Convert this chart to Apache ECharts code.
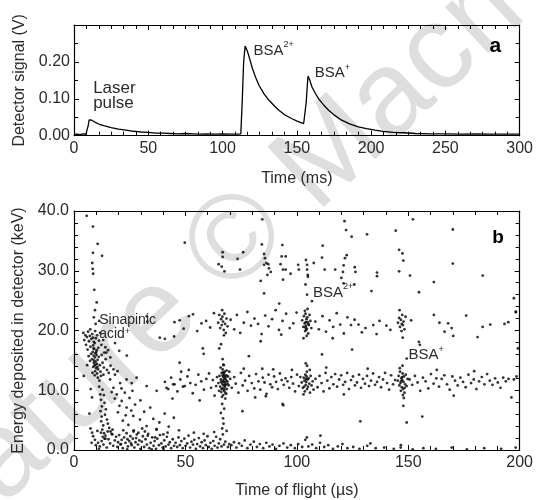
<!DOCTYPE html>
<html><head><meta charset="utf-8">
<script src="https://cdn.jsdelivr.net/npm/echarts@6/dist/echarts.min.js"></script>
<style>html,body{margin:0;padding:0;background:#fff}#c{width:536px;height:500px}</style>
</head><body><div id="c"></div>
<script>
// ---------- Panel a: detector signal ----------
const signalTime = [0,2,4,6,8,9,9.6,10.2,10.7,12,14,17,20,25,30,35,40,43,45,50,55,60,65,70,75,80,85,90,95,100,105,110,112.3,113.2,114.2,115.2,116.8,118.5,120.1,122.3,124.6,127.8,131.3,134.6,137.9,142,146.8,150.5,154.6,155.4,156.3,157.5,158.6,160.2,162.4,164.7,167.9,171.4,175.5,180.2,185.5,191.4,196.9,202.6,208,215,222,230,240,250,260,270,280,290,300];
const signalVolts = [0.003,0.004,0.003,0.005,0.004,0.006,0.028,0.043,0.046,0.042,0.037,0.031,0.027,0.022,0.018,0.015,0.012,0.011,0.010,0.009,0.007,0.007,0.006,0.005,0.006,0.005,0.004,0.005,0.004,0.005,0.004,0.004,0.005,0.09,0.20,0.243,0.228,0.205,0.182,0.158,0.136,0.114,0.096,0.082,0.069,0.056,0.046,0.039,0.033,0.031,0.09,0.162,0.152,0.132,0.115,0.100,0.084,0.069,0.055,0.042,0.032,0.024,0.019,0.015,0.012,0.009,0.008,0.006,0.005,0.005,0.004,0.005,0.004,0.004,0.004];
const timeTicksA = [0, 300, 50];
const voltTicks = [0, 0.3, 0.1];

// ---------- Panel b: energy vs time of flight ----------
const tofTicks = [0, 200, 50];
const energyTicks = [0, 40, 10];

const sinapinicPts = [[4.2,19.6],[5.1,19.2],[4.6,18.4],[5.8,18.9],[6.3,19.8],[7.1,19.1],[6.7,18.2],[5.4,17.6],[7.8,18.6],[8.2,19.4],[8.9,18.1],[7.4,17.3],[6.1,16.8],[8.6,17.5],[9.3,17.9],[9.8,18.7],[10.4,19.2],[11.2,18.3],[10.9,17.1],[12.3,17.6],[13.1,18.4],[9.1,16.9],[8.4,16.4],[9.6,16.2],[10.2,16.7],[8.8,15.8],[9.4,15.5],[10.1,15.9],[8.1,15.2],[9.7,14.8],[10.6,15.1],[8.9,14.6],[9.2,14.1],[10.3,14.4],[11.1,15.6],[9.9,13.7],[8.6,13.9],[10.8,13.5],[11.6,14.2],[9.5,13.2],[10.4,12.8],[11.9,13.1],[12.4,15.9],[13.6,16.3],[14.2,15.2],[12.8,14.6],[13.4,13.8],[7.2,14.9],[6.6,15.7],[7.7,16.1],[5.9,14.2],[4.4,12.4],[12.1,12.4],[13.2,12.6],[14.8,13.4],[15.6,12.9],[16.4,14.1],[10.7,12.1],[11.4,11.6],[9.3,12.5],[8.3,12.9],[8.5,18.8],[9.5,19.9],[11.7,19.6],[7.3,20.2],[14.1,17.2],[15.3,16.7],[16.3,15.5],[14.5,16.3],[9.0,15.0],[9.6,14.3],[10.0,16.4],[8.7,17.0],[10.5,13.9]];

const trailPts = [[5.7,39.2],[8.5,37.4],[10.6,34.5],[12.6,32.5],[8.5,33.0],[8.2,31.3],[8.4,30.3],[8.6,29.5],[9.1,26.8],[10.2,24.7],[9.4,23.4],[9.7,21.1],[11.3,21.6],[8.9,22.2],[32.7,22.4],[32.9,21.5],[38.5,18.8],[40.8,18.6],[44.9,19.0],[23.7,15.8],[20.3,16.6],[18.4,17.9],
[11.8,9.3],[12.1,8.4],[12.5,7.3],[11.9,6.5],[12.4,5.6],[12.2,4.8],[13.1,4.1],[12.7,3.4],[13.5,2.8],[12.9,2.2],[14.1,1.9],[11.3,10.6],[12.8,10.1],[13.4,9.2],[13.7,7.9],[14.3,6.8],[13.9,5.9],[14.8,5.1],[15.2,4.4],[15.8,3.7],[16.4,3.1],[17.2,2.6],
[7.4,3.6],[8.1,2.9],[9.4,1.7],[8.6,2.3],[7.9,1.2],[9.8,0.8],[10.5,3.2],[8.1,8.8],[7.5,10.2],[6.9,6.1],
[17.7,13.5],[19.5,13.2],[20.7,11.2],[23.6,11.8],[25.9,11.2],[28.1,12.1],[32.6,10.7],[37.1,9.9],[41.5,10.4],[44.5,11.0],
[17.7,10.4],[19.2,9.3],[21.4,8.2],[23.6,7.1],[26.6,5.7],[29.6,5.1],[32.6,4.0],[37.1,3.5],[40.1,2.6],
[16.2,11.8],[18.4,12.6],[21.3,10.3],[22.8,9.6],[24.9,8.7],[26.2,9.9],[27.4,7.6],[29.8,8.3],[31.5,6.4],[34.2,7.1],[35.6,5.2],[38.3,4.6],[40.7,6.1],[42.5,3.9],[44.8,5.4],[19.7,6.3],[21.9,4.9],[24.4,4.2],[26.8,3.3],[28.9,2.9],[30.6,3.6],[33.1,2.4],[36.4,2.1],[18.3,8.6],[20.4,7.4],[16.9,9.7],[23.2,5.8],[25.7,6.6]];

const lowBandPts = [[10.8,1.2],[11.6,0.6],[12.4,1.5],[13.2,0.9],[14.1,2.4],[14.7,0.4],[15.5,1.8],[16.2,1.1],[16.9,2.7],[17.6,0.7],[18.3,1.6],[18.9,2.2],[19.5,0.5],[15.1,3.1],[17.3,3.4],[19.8,1.3],[13.7,1.9],[12.1,2.9],[11.2,0.2],
[20.3,2.5],[20.8,0.9],[21.4,1.7],[21.9,0.3],[22.5,2.1],[23.1,1.2],[23.6,2.8],[24.2,0.6],[24.8,1.5],[25.3,2.3],[25.9,0.8],[26.4,1.9],[27.1,0.4],[27.6,1.3],[28.2,2.6],[28.7,0.9],[29.3,1.6],[29.8,0.2],[22.1,3.3],[26.7,3.1],[21.1,1.0],[24.0,1.8],[27.9,2.0],[23.9,0.1],[25.6,1.1],
[30.4,1.4],[30.9,2.3],[31.5,0.5],[32.1,1.8],[32.7,0.9],[33.3,2.7],[33.8,0.3],[34.4,1.2],[35.1,2.1],[35.7,0.7],[36.2,1.5],[36.8,0.2],[37.4,1.9],[38.1,0.8],[38.6,2.5],[39.2,1.1],[39.8,0.4],[40.5,1.6],[41.1,0.6],[41.7,2.2],[42.4,0.9],[43.0,1.3],[43.6,0.3],[44.3,1.8],[44.9,0.7],[31.8,3.1],[37.0,3.4],[42.0,2.9],[34.9,0.1],[40.2,0.2],
[45.6,1.2],[46.3,0.5],[46.9,2.1],[47.5,0.8],[48.2,1.5],[48.8,0.3],[49.5,1.9],[50.1,0.7],[50.8,1.1],[51.4,2.4],[52.1,0.4],[52.7,1.4],[53.4,0.9],[54.0,1.7],[54.7,0.2],[55.3,1.0],[56.0,2.0],[56.6,0.6],[57.3,1.3],[57.9,0.3],[58.6,1.6],[59.2,0.8],[59.9,2.3],[60.5,0.5],[61.2,1.2],[61.8,0.2],[62.5,1.5],[63.1,0.7],[63.8,2.2],[64.4,0.4],[65.0,1.1],[65.6,1.8],[66.2,0.6],[66.8,2.6],[67.3,0.9],[67.9,1.4],[68.5,3.2],[69.1,0.5],[69.7,1.0],[47.1,3.3],[53.8,2.9],[58.2,2.7],[62.9,3.0],[66.5,3.6],[67.1,4.4],[66.9,5.3],
[70.6,0.8],[71.8,1.3],[72.9,0.4],[74.1,1.1],[75.3,0.7],[76.6,1.6],[77.8,0.3],[79.2,0.9],[80.7,1.4],[82.1,0.5],[83.4,1.0],[84.9,0.3],[86.3,1.2],[87.7,0.6],[89.1,0.9],[90.6,0.2],[92.2,0.7],[94.0,1.1],[95.7,0.4],[97.3,0.8],[99.1,0.3],[100.6,1.0],[102.4,0.5],[103.8,1.7],[104.5,2.1],[105.2,0.6],[106.9,0.9],[108.7,0.3],[110.4,1.2],[110.6,2.4],[112.3,0.5],[114.1,0.8],[116.2,0.2],[118.4,0.6],[120.5,1.0],[122.7,0.3],[125.3,0.5],[128.1,0.2],[131.6,0.7],[133.0,1.1],[135.4,0.3],[139.2,0.4],[143.5,0.2],[146.6,0.4],[146.7,0.8],[152.0,0.1],[156.8,0.3],[162.4,0.2],[169.5,0.4],[176.3,0.1],[184.1,0.3],[191.7,0.2],[198.2,0.4]];

const band11Pts = [[40.8,11.4],[42.3,10.2],[43.6,12.1],[45.1,11.0],[46.4,9.8],[47.7,11.8],[48.9,10.6],[49.7,10.7],[50.9,12.3],[52.2,11.2],[53.3,9.5],[54.6,10.9],[55.8,12.6],[57.1,11.5],[58.3,10.1],[59.4,11.9],[60.6,12.8],[61.5,10.4],[62.3,11.7],[63.1,9.1],[44.2,8.6],[51.5,13.4],[56.4,8.3],[48.1,13.1],
[64.8,11.2],[65.3,12.4],[65.6,10.6],[65.9,11.8],[66.1,9.7],[66.3,12.9],[66.5,11.1],[66.6,10.3],[66.7,13.5],[66.8,11.6],[66.9,12.2],[67.0,9.2],[67.1,10.8],[67.2,11.4],[67.3,12.7],[67.4,10.1],[67.5,11.9],[67.6,13.1],[67.7,10.5],[67.8,11.3],[67.9,9.6],[68.0,12.1],[68.1,10.9],[68.2,11.7],[68.4,12.5],[68.6,10.2],[68.8,11.5],[69.1,12.3],[65.1,9.9],[65.8,13.8],[66.4,8.9],[67.2,14.2],[67.9,8.6],[68.5,13.3],[69.4,10.8],[64.2,12.2],[66.0,11.4],[66.7,12.5],[67.3,9.9],[67.7,12.4],[68.3,9.4],[66.2,10.2],[67.0,13.0],[67.6,10.9],[68.9,11.1],[63.8,10.7],[70.1,11.9],[69.7,13.1],[66.7,15.2],[66.5,7.7],[67.4,6.9],[65.9,6.2],
[70.8,10.4],[71.9,12.2],[72.6,11.1],[73.8,9.6],[74.9,12.9],[75.7,10.8],[76.8,11.6],[77.9,9.9],[78.6,12.4],[79.8,11.2],[80.9,10.3],[81.7,12.7],[82.8,11.5],[83.6,10.1],[84.7,12.1],[85.5,11.3],[86.4,9.4],[87.3,12.6],[88.1,11.0],[88.9,10.5],[89.8,12.3],[90.7,11.4],[91.5,10.2],[92.4,12.8],[93.2,11.7],[94.1,10.9],[94.9,12.0],[95.8,11.5],[96.6,10.4],[97.5,12.2],[98.3,11.1],[99.2,9.8],[100.1,12.6],[100.9,10.7],[76.2,13.6],[81.3,8.8],[89.4,13.5],[93.6,7.7],[93.9,7.5],[75.6,6.5],[86.1,9.0],[97.8,13.4],
[102.2,11.3],[102.7,10.4],[103.1,12.1],[103.4,11.6],[103.6,9.8],[103.8,12.6],[104.0,10.9],[104.2,11.4],[104.4,12.3],[104.6,10.2],[104.8,11.8],[105.0,10.6],[105.3,12.0],[105.6,11.1],[105.9,9.6],[106.2,12.4],[106.6,10.8],[107.1,11.5],[101.6,12.2],[103.0,9.3],[104.5,13.1],[105.8,13.4],[107.5,10.1],[104.1,11.9],[103.3,10.6],
[108.4,11.9],[109.3,10.5],[110.2,12.4],[111.1,11.2],[112.0,9.8],[112.9,12.9],[113.7,11.6],[114.6,10.3],[115.5,12.2],[116.4,11.0],[117.2,12.7],[118.1,10.6],[119.0,11.8],[119.9,12.5],[120.8,10.9],[121.7,11.4],[122.6,12.9],[123.4,10.2],[124.3,11.7],[125.2,12.3],[126.1,10.8],[127.0,11.3],[127.9,12.6],[128.8,10.4],[129.7,11.9],[130.6,11.1],[131.5,12.4],[132.4,10.7],[133.3,11.6],[134.2,12.8],[135.1,10.9],[136.0,11.4],[136.9,12.2],[137.8,10.5],[138.7,11.8],[139.6,12.9],[140.5,11.2],[141.4,10.1],[142.3,12.5],[143.2,11.0],[144.1,11.7],[113.2,13.8],[121.1,9.3],[131.8,13.6],[128.5,4.8],
[145.3,11.6],[145.7,12.4],[146.0,10.8],[146.3,13.1],[146.5,11.2],[146.7,9.9],[146.9,12.0],[147.1,10.5],[147.3,11.7],[147.5,12.8],[147.7,10.2],[147.9,11.4],[148.1,12.3],[148.3,9.6],[148.6,11.0],[148.9,12.6],[149.3,10.7],[149.7,11.9],[146.2,13.7],[147.4,14.1],[148.0,8.7],[147.8,7.4],[149.3,4.6],[149.3,15.3],[146.8,11.5],[147.2,12.2],[147.6,9.2],[148.4,10.4],
[150.6,11.8],[151.8,10.9],[153.0,12.4],[154.2,11.3],[155.4,9.9],[156.6,12.1],[157.8,11.5],[159.0,10.3],[160.2,12.7],[161.4,11.1],[162.6,12.0],[163.8,10.6],[165.0,11.9],[166.2,12.5],[167.4,11.0],[168.6,10.1],[169.8,12.3],[171.0,11.6],[172.2,10.8],[173.4,12.1],[174.6,11.4],[175.8,10.5],[177.0,12.6],[178.2,11.2],[179.4,11.8],[180.6,10.2],[181.8,11.5],[183.0,12.2],[184.2,11.0],[185.4,12.7],[186.6,11.6],[187.8,10.9],[189.0,12.0],[190.2,11.3],[191.4,10.4],[192.6,12.1],[193.8,11.5],[195.0,11.9],[196.3,8.8],[197.4,11.8],[198.6,12.3],[156.3,5.6],[162.8,13.4],[179.6,13.2],[170.4,9.1]];

const band21Pts = [[45.1,21.4],[47.4,21.7],[49.2,20.3],[51.6,22.4],[53.4,22.7],[55.3,19.9],[57.2,21.2],[59.3,21.6],[61.1,20.5],[62.8,22.9],[70.3,21.8],[71.9,20.2],[73.1,22.6],[74.6,19.6],[76.2,21.3],[77.8,23.1],[79.4,20.8],[81.0,22.0],[82.6,21.1],[84.2,19.4],[85.8,22.5],[87.3,20.7],[88.9,21.9],[90.5,23.4],[92.0,20.1],[93.6,21.6],[95.2,22.8],[96.8,20.4],[98.4,21.2],[99.9,23.0],[108.3,21.5],[109.9,20.2],[111.5,22.4],[113.1,19.8],[114.7,21.7],[116.3,20.6],[117.9,22.9],[119.5,21.0],[121.1,19.5],[122.7,22.2],[124.3,20.9],[125.9,21.8],[127.7,21.0],[129.2,19.7],[130.8,20.4],[134.3,20.9],[135.8,19.4],[137.1,21.6],[140.2,20.8],[142.0,20.1],[151.3,21.7],[154.8,18.1],[155.2,17.6],[161.5,22.6],[164.0,21.3],[166.3,19.8],[167.9,21.2],[169.5,20.4],[170.2,19.1],[176.0,22.5],[181.1,18.9],[183.4,20.6],[186.8,21.0],[193.2,21.1],[194.9,21.4],[198.3,23.1],[199.2,17.0],[83.8,18.2],[93.0,19.3],[111.3,16.0],[116.1,18.7],[57.8,17.0],[65.2,17.0],[66.0,17.7],[47.4,14.6],[67.0,14.3],[84.5,13.6],[104.0,14.5],[104.6,14.1],[58.2,16.1],[78.5,15.7],[124.8,16.8],[92.1,24.5],[106.8,24.9],
[64.7,21.3],[65.2,22.6],[65.6,20.4],[66.0,21.9],[66.3,20.9],[66.6,22.3],[66.9,21.5],[67.2,20.1],[67.5,22.8],[67.8,21.1],[68.1,19.6],[68.4,22.0],[68.9,20.7],[66.5,23.4],[67.3,19.2],
[102.4,21.7],[102.9,20.6],[103.2,22.4],[103.5,21.2],[103.7,19.9],[103.9,22.8],[104.1,20.8],[104.3,21.9],[104.5,20.3],[104.7,22.2],[104.9,21.4],[105.1,19.5],[105.4,20.9],[105.7,22.6],[106.1,21.6],[106.5,20.4],[103.6,23.3],[104.4,19.1],[104.8,23.6],[103.0,18.7],[105.2,21.1],[104.2,20.1],[104.0,21.4],[103.8,20.5],
[145.4,21.3],[145.9,22.1],[146.3,20.6],[146.7,21.8],[147.0,19.9],[147.3,22.6],[147.6,20.9],[147.9,21.5],[148.3,20.2],[148.8,22.3],[146.1,23.4],[147.5,18.8],[147.1,21.1]];

const band31Pts = [[49.7,34.7],[84.3,34.4],[93.5,34.3],[111.6,34.2],[124.6,35.7],[122.1,36.8],[121.4,38.3],[84.5,38.6],[66.7,33.1],[66.7,32.3],[75.9,33.1],[73.4,32.0],[64.9,31.1],[66.3,30.7],[67.5,29.9],[74.5,30.2],[85.3,32.8],[85.7,32.1],[86.3,31.3],[85.3,31.0],[87.2,31.1],[87.5,30.4],[88.3,29.8],[86.8,29.3],[93.2,32.4],[95.0,32.4],[92.7,31.1],[93.8,30.2],[95.0,30.2],[97.2,29.5],[100.6,31.0],[100.9,30.2],[104.1,31.8],[104.6,31.0],[104.6,30.2],[104.9,29.3],[105.0,29.0],[107.6,31.3],[111.3,32.2],[112.5,30.2],[117.2,30.2],[121.0,30.9],[121.6,32.1],[120.7,29.8],[122.4,32.6],[83.8,28.3],[93.8,28.5],[103.9,27.7],[104.6,26.0],[85.3,26.2],[120.0,28.8],[121.0,27.9],[126.0,30.6],[126.3,29.8],[125.8,27.7],[152.1,38.6],[170.0,36.9],[144.4,36.7],[131.5,36.1],[145.9,33.5],[147.4,32.9],[147.8,31.7],[170.0,31.2],[145.9,29.9],[150.8,29.2],[136.0,29.7],[136.0,29.1],[183.4,29.2],[161.5,28.1],[133.5,26.6],[154.8,26.4],[197.4,25.4],[198.3,23.1]];

// annotations (data coordinates)
const notesA = [
  {at:[12.9,0.146], text:'{m|Laser}\n{m|pulse}', size:17, lh:15},
  {at:[120.9,0.258], text:'{m|BSA}{s|2+}', size:15, lh:18},
  {at:[162.1,0.198], text:'{m|BSA}{s|+}', size:15, lh:18}
];
const notesB = [
  {at:[11.3,22.8], text:'{m|Sinapinic}\n{m|acid}{s|+}', size:14, lh:13.5},
  {at:[107.3,28.1], text:'{m|BSA}{s|2+}', size:15, lh:18},
  {at:[150.1,17.6], text:'{m|BSA}{s|+}', size:15, lh:18}
];
const panelLetters = [{grid:0, at:[279.7,0.272], text:'a', size:21},{grid:1, at:[187.7,37.1], text:'b', size:19}];

const FONT = '"Liberation Sans", Arial, Helvetica, sans-serif';
const TXT = '#2a2a2a';
const chart = echarts.init(document.getElementById('c'), null, {renderer:'canvas'});

function axis(kind, grid, ticks, pos, opts) {
  const show = opts.labels;
  return Object.assign({
    type:'value', gridIndex:grid, position:pos,
    min:ticks[0], max:ticks[1], interval:ticks[2],
    axisLine:{show:true, onZero:false, lineStyle:{color:'#000', width:1.2}},
    axisTick:{show:true, inside:true, length:5, lineStyle:{color:'#000', width:1}},
    minorTick:{show:true, inside:true, splitNumber:opts.minor, length:4, lineStyle:{color:'#000', width:1}},
    splitLine:{show:false}, minorSplitLine:{show:false},
    axisLabel:{show:show, fontSize:16, color:TXT, fontFamily:FONT, margin:opts.margin||5, formatter:opts.fmt, showMaxLabel:true, showMinLabel:true, hideOverlap:false},
    nameTextStyle:{fontSize:16, color:TXT, fontFamily:FONT}
  }, opts.extra||{});
}

const option = {
  animation:false,
  backgroundColor:'#fff',
  grid:[
    {left:74, right:13, top:25, height:110.7},
    {left:74, right:13, top:211, height:240}
  ],
  xAxis:[
    axis('x',0,timeTicksA,'bottom',{labels:true, minor:6, margin:5, fmt:v=>String(v), extra:{name:'Time (ms)', nameLocation:'middle', nameGap:35}}),
    axis('x',0,timeTicksA,'top',{labels:false, minor:6}),
    axis('x',1,tofTicks,'bottom',{labels:true, minor:5, margin:5, fmt:v=>String(v), extra:{name:'Time of flight (\u00b5s)', nameLocation:'middle', nameGap:33}}),
    axis('x',1,tofTicks,'top',{labels:false, minor:5})
  ],
  yAxis:[
    axis('y',0,voltTicks,'left',{labels:true, minor:2, margin:4, fmt:v=>(v>0.25?'':v.toFixed(2)), extra:{name:'Detector signal (V)', nameLocation:'middle', nameGap:45}}),
    axis('y',0,voltTicks,'right',{labels:false, minor:2}),
    axis('y',1,energyTicks,'left',{labels:true, minor:5, margin:5, fmt:v=>v.toFixed(1), extra:{name:'Energy deposited in detector (keV)', nameLocation:'middle', nameGap:45}}),
    axis('y',1,energyTicks,'right',{labels:false, minor:5})
  ],
  series:[
    {type:'line', xAxisIndex:0, yAxisIndex:0, showSymbol:false, smooth:false,
     lineStyle:{color:'#000', width:1.3}, z:5,
     data: signalTime.map((t,i)=>[t, signalVolts[i]])},
  ].concat([sinapinicPts, trailPts, lowBandPts, band11Pts, band21Pts, band31Pts].map(d=>({
     type:'scatter', xAxisIndex:2, yAxisIndex:2, symbol:'circle', symbolSize:2.8,
     itemStyle:{color:'#000'}, z:5, data:d
  }))),
  graphic:[]
};
chart.setOption(option);

const graphics = [{
  type:'text', x:303, y:181, rotation:43*Math.PI/180, z:-100, silent:true,
  style:{text:'Nature \u00a9 Macmillan', fill:'#dedede', font:'120px ' + FONT, align:'center', verticalAlign:'middle'}
}];
function addNote(n, seriesIndex) {
  const p = chart.convertToPixel({seriesIndex:seriesIndex}, n.at);
  graphics.push({type:'text', x:p[0], y:p[1], z:50, silent:true,
    style:{text:n.text, align:'left', verticalAlign:'top', fill:TXT,
      rich:{m:{fontSize:n.size, fontFamily:FONT, fill:TXT, lineHeight:n.lh, verticalAlign:'bottom'},
            s:{fontSize:9, fontFamily:FONT, fill:TXT, verticalAlign:'top'}}}});
}
notesA.forEach(n=>addNote(n,0));
notesB.forEach(n=>addNote(n,1));
panelLetters.forEach(l=>{
  const p = chart.convertToPixel({seriesIndex:l.grid===0?0:1}, l.at);
  graphics.push({type:'text', x:p[0], y:p[1], z:50, silent:true,
    style:{text:l.text, font:'bold ' + l.size + 'px ' + FONT, fill:'#000', align:'left', verticalAlign:'top'}});
});
chart.setOption({graphic:graphics});
</script>
</body></html>
